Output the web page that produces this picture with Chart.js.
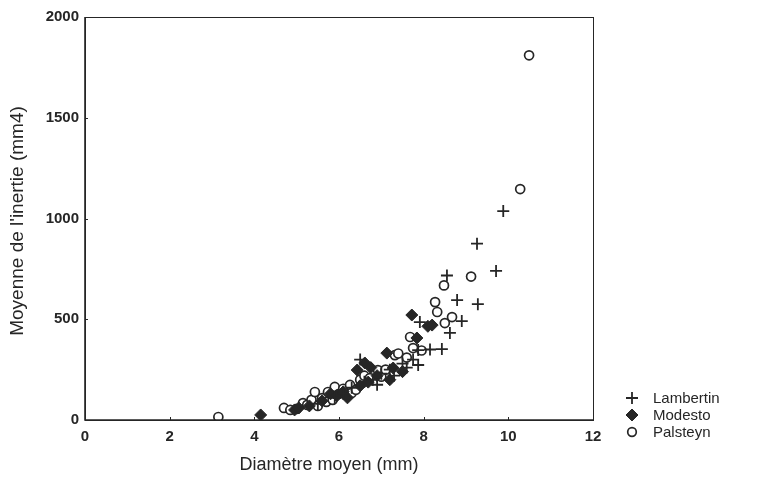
<!DOCTYPE html>
<html>
<head>
<meta charset="utf-8">
<script src="https://cdn.jsdelivr.net/npm/chart.js@4.4.1/dist/chart.umd.min.js"></script>
<style>
  html, body { margin: 0; padding: 0; background: #fff; }
  #wrap { width: 760px; height: 477px; }
</style>
</head>
<body>
<div id="wrap"><canvas id="c" width="760" height="477"></canvas></div>
<script>
// Diamètre moyen (mm) vs moyenne de l'inertie (mm4), three cultivars
const lambertinX = [5.5, 5.9, 6.1, 6.3, 6.5, 6.6, 6.8, 6.9, 7.0, 7.2, 7.3, 7.5, 7.6, 7.75, 7.87, 7.87, 7.91, 8.15, 8.43, 8.55, 8.62, 8.79, 8.9, 9.26, 9.28, 9.71, 9.88];
const lambertinY = [80, 110, 130, 160, 300, 190, 200, 175, 230, 250, 220, 280, 260, 300, 347, 273, 486, 350, 352, 717, 432, 595, 491, 875, 575, 740, 1037];

const modestoX = [4.15, 4.95, 5.05, 5.3, 5.6, 5.8, 5.95, 6.1, 6.2, 6.43, 6.5, 6.61, 6.69, 6.75, 6.9, 7.13, 7.2, 7.28, 7.5, 7.72, 7.84, 8.1, 8.2];
const modestoY = [25, 50, 60, 70, 95, 130, 120, 140, 110, 248, 170, 283, 188, 260, 220, 332, 200, 258, 240, 521, 407, 465, 471];

const palsteynX = [3.15, 4.7, 4.85, 5.0, 5.15, 5.25, 5.35, 5.43, 5.5, 5.6, 5.7, 5.74, 5.85, 5.9, 6.0, 6.1, 6.26, 6.3, 6.4, 6.5, 6.6, 6.73, 6.92, 7.0, 7.1, 7.32, 7.4, 7.6, 7.68, 7.75, 7.95, 8.27, 8.32, 8.48, 8.5, 8.67, 9.12, 10.28, 10.49];
const palsteynY = [15, 60, 50, 55, 84, 75, 100, 139, 70, 109, 90, 139, 100, 164, 130, 155, 174, 134, 150, 200, 220, 208, 248, 215, 250, 322, 330, 310, 412, 357, 345, 585, 536, 668, 481, 511, 712, 1146, 1810];

const xTicks = [0, 2, 4, 6, 8, 10, 12];
const yTicks = [0, 500, 1000, 1500, 2000];
const xTitle = 'Diamètre moyen (mm)';
const yTitle = "Moyenne de l'inertie (mm4)";

const ink = '#262626';
const fontFamily = '"Liberation Sans", Arial, sans-serif';
const pair = (xs, ys) => xs.map((x, i) => ({ x: x, y: ys[i] }));

const datasets = [
  { label: 'Lambertin', data: pair(lambertinX, lambertinY), pointStyle: 'cross',
    pointRadius: 6, borderColor: ink, backgroundColor: ink, pointBorderWidth: 1.8 },
  { label: 'Modesto', data: pair(modestoX, modestoY), pointStyle: 'rectRot',
    pointRadius: 6, borderColor: ink, backgroundColor: ink, pointBorderWidth: 1 },
  { label: 'Palsteyn', data: pair(palsteynX, palsteynY), pointStyle: 'circle',
    pointRadius: 4.5, borderColor: ink, backgroundColor: '#ffffff', pointBorderWidth: 1.7 }
];

// Frame, inward tick marks, axis titles and the legend at lower right
const framePlugin = {
  id: 'frame',
  afterDraw(chart) {
    const { ctx, chartArea: a, scales } = chart;
    ctx.save();
    ctx.strokeStyle = ink;
    ctx.lineWidth = 1;
    ctx.strokeRect(a.left + 0.5, a.top + 0.5, a.right - a.left, a.bottom - a.top);
    ctx.lineWidth = 1.6;
    ctx.beginPath();
    ctx.moveTo(a.left, a.top);
    ctx.lineTo(a.left, a.bottom);
    ctx.lineTo(a.right, a.bottom);
    ctx.stroke();
    ctx.lineWidth = 1;
    ctx.beginPath();
    xTicks.forEach(v => {
      const px = Math.round(scales.x.getPixelForValue(v)) + 0.5;
      ctx.moveTo(px, a.bottom); ctx.lineTo(px, a.bottom - 3);
    });
    yTicks.forEach(v => {
      const py = Math.round(scales.y.getPixelForValue(v)) + 0.5;
      ctx.moveTo(a.left, py); ctx.lineTo(a.left + 3, py);
    });
    ctx.stroke();

    // axis titles
    ctx.fillStyle = ink;
    ctx.textAlign = 'center';
    ctx.textBaseline = 'middle';
    ctx.font = '18px ' + fontFamily;
    ctx.fillText(xTitle, 329, 465);
    ctx.save();
    ctx.font = '19px ' + fontFamily;
    ctx.translate(18, 221);
    ctx.rotate(-Math.PI / 2);
    ctx.fillText(yTitle, 0, 0);
    ctx.restore();

    // legend
    const lx = 632, ly0 = 398, step = 17;
    ctx.font = '15px ' + fontFamily;
    ctx.textAlign = 'left';
    chart.data.datasets.forEach((ds, i) => {
      const y = ly0 + i * step;
      const r = ds.pointStyle === 'circle' ? 4.3 : 6;
      ctx.lineWidth = ds.pointBorderWidth;
      ctx.strokeStyle = ds.borderColor;
      ctx.fillStyle = ds.backgroundColor;
      Chart.helpers.drawPoint(ctx, { pointStyle: ds.pointStyle, radius: r, rotation: 0, borderWidth: ds.pointBorderWidth }, lx, y);
      ctx.fillStyle = ink;
      ctx.fillText(ds.label, 653, y + 1);
    });
    ctx.restore();
  }
};

const tickFont = { family: fontFamily, size: 15, weight: 'bold' };

new Chart(document.getElementById('c'), {
  type: 'scatter',
  data: { datasets: datasets },
  options: {
    responsive: false,
    animation: false,
    devicePixelRatio: 1,
    layout: { padding: { left: 0, top: 17, right: 167, bottom: 0 } },
    plugins: { legend: { display: false }, tooltip: { enabled: false } },
    scales: {
      x: {
        type: 'linear', min: 0, max: 12,
        afterBuildTicks: s => { s.ticks = xTicks.map(v => ({ value: v })); },
        afterFit: s => { s.height = 57; },
        grid: { display: false, drawTicks: false },
        border: { display: false },
        ticks: { color: ink, padding: 8, font: tickFont, callback: v => String(v) }
      },
      y: {
        type: 'linear', min: 0, max: 2000,
        afterBuildTicks: s => { s.ticks = yTicks.map(v => ({ value: v })); },
        afterFit: s => { s.width = 85; },
        grid: { display: false, drawTicks: false },
        border: { display: false },
        ticks: { color: ink, padding: 6, font: tickFont, callback: v => String(v) }
      }
    }
  },
  plugins: [framePlugin]
});
</script>
</body>
</html>
